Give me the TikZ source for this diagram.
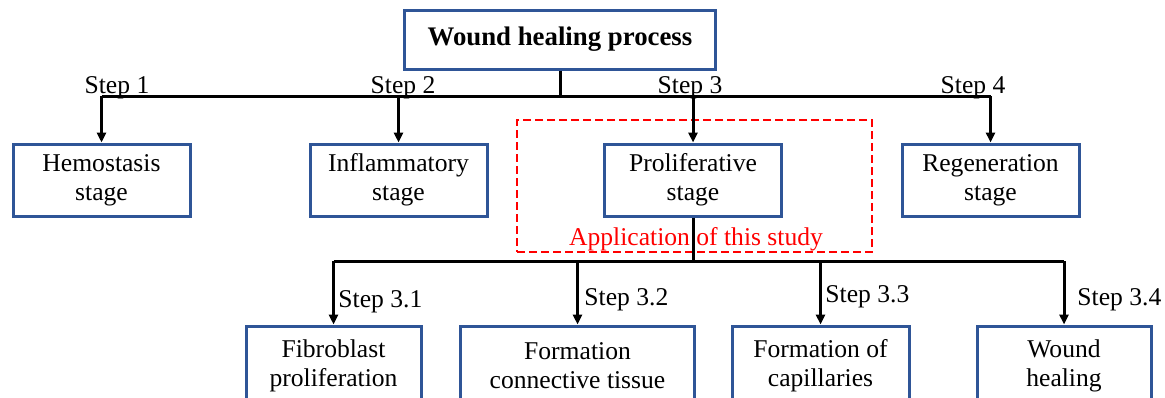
\documentclass[tikz,border=0pt]{standalone}
\usepackage{fontspec}
\setmainfont{Liberation Serif}
\usetikzlibrary{arrows.meta}
\newlength{\du}
\setlength{\du}{0.5pt}
\definecolor{boxcolor}{RGB}{47,85,151}
\definecolor{studycolor}{RGB}{255,0,0}

\begin{document}
\begin{tikzpicture}[
  stagebox/.style={draw=boxcolor, line width=1.5pt, fill=white, align=center,
    inner sep=0pt, minimum height=72\du, font=\fontsize{12.8}{14.5}\selectfont},
  steplabel/.style={inner sep=0pt, font=\fontsize{12.8}{14.5}\selectfont},
  link/.style={line width=1.5pt, draw=black},
  linkarrow/.style={link, -{Triangle[length=5pt,width=4.5pt]}},
]
\pgftransformxscale{1.000000}
\pgftransformyscale{-1.000000}
\clip (0\du,0\du) rectangle (1165\du,397\du);
% area of this study
\node[draw=studycolor, line width=1.4pt, dash pattern=on 4pt off 2pt,
  minimum width=355\du, minimum height=132\du, inner sep=0pt] (study) at (694.5\du,186\du) {};
\node[steplabel, text=studycolor] (studytext) at (696\du,239\du) {Application of this study};
% boxes
\node[stagebox, minimum width=311\du, minimum height=59\du, font=\fontsize{13.4}{14.5}\selectfont\bfseries] (top) at (560\du,39.5\du) {Wound healing process};
\node[stagebox, minimum width=177\du] (hemo) at (101.5\du,180\du) {Hemostasis\\stage};
\node[stagebox, minimum width=177\du] (infl) at (398.5\du,180\du) {Inflammatory\\stage};
\node[stagebox, minimum width=177\du] (prol) at (693\du,180\du) {Proliferative\\stage};
\node[stagebox, minimum width=177\du] (regen) at (990.5\du,180\du) {Regeneration\\stage};
\node[stagebox, minimum width=175\du, minimum height=80\du] (fibro) at (333.5\du,366\du) {Fibroblast\\proliferation};
\node[stagebox, minimum width=234\du, minimum height=80\du] (conn) at (577.5\du,366\du) {Formation\\connective tissue};
\node[stagebox, minimum width=177\du, minimum height=80\du] (capil) at (820.5\du,366\du) {Formation of\\capillaries};
\node[stagebox, minimum width=174\du, minimum height=80\du] (heal) at (1064\du,366\du) {Wound\\healing};
% first level
\coordinate (bus1) at (560\du,96\du);
\draw[link] (top.south) -- (bus1);
\draw[link] (hemo.north |- bus1) -- (regen.north |- bus1);
\draw[linkarrow] (hemo.north |- bus1) -- (hemo.north);
\draw[linkarrow] (infl.north |- bus1) -- (infl.north);
\draw[linkarrow] (prol.north |- bus1) -- (prol.north);
\draw[linkarrow] (regen.north |- bus1) -- (regen.north);
\node[steplabel, anchor=base] (s1) at (117\du,93\du) {Step 1};
\node[steplabel, anchor=base] (s2) at (403\du,93\du) {Step 2};
\node[steplabel, anchor=base] (s3) at (690\du,93\du) {Step 3};
\node[steplabel, anchor=base] (s4) at (973\du,93\du) {Step 4};
% second level
\coordinate (bus2) at (693\du,261\du);
\draw[link] (prol.south) -- (bus2);
\draw[link] (fibro.north |- bus2) -- (heal.north |- bus2);
\draw[linkarrow] (fibro.north |- bus2) -- (fibro.north);
\draw[linkarrow] (conn.north |- bus2) -- (conn.north);
\draw[linkarrow] (capil.north |- bus2) -- (capil.north);
\draw[linkarrow] (heal.north |- bus2) -- (heal.north);
\node[steplabel, anchor=west] (s31) at (338\du,302\du) {Step 3.1};
\node[steplabel, anchor=west] (s32) at (584\du,300\du) {Step 3.2};
\node[steplabel, anchor=west] (s33) at (825\du,297\du) {Step 3.3};
\node[steplabel, anchor=west] (s34) at (1077\du,300\du) {Step 3.4};
\end{tikzpicture}
\end{document}
